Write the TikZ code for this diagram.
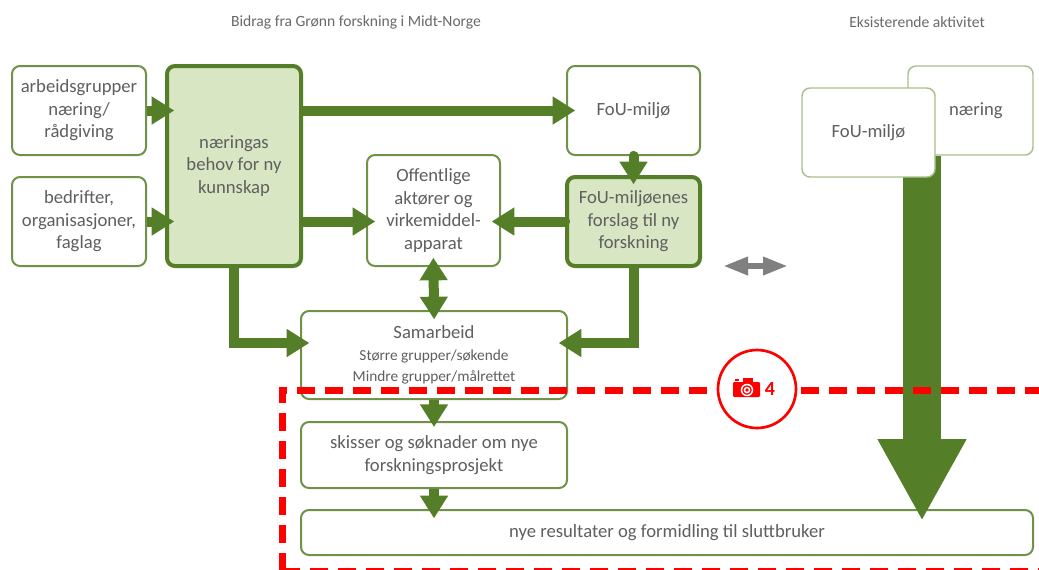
\documentclass[tikz,border=0pt]{standalone}
\usepackage{fontspec}
\setmainfont{Carlito}
\usetikzlibrary{arrows.meta,calc}
\definecolor{grn}{RGB}{84,126,39}
\definecolor{bordergrn}{RGB}{112,146,72}
\definecolor{lightbord}{RGB}{170,192,140}
\definecolor{fillgrn}{RGB}{216,230,196}
\definecolor{txt}{RGB}{95,95,95}
\definecolor{titletxt}{RGB}{105,105,105}
\definecolor{gry}{RGB}{128,128,128}
\begin{document}
\begin{tikzpicture}[x=0.75pt,y=-0.75pt,
  box/.style={draw=bordergrn, line width=1.5pt, rounded corners=6pt, fill=white,
    align=center, text=txt, font=\fontsize{14}{16.9}\selectfont, inner sep=0pt},
  thickbox/.style={box, draw=grn, line width=3pt, fill=fillgrn},
  lightbox/.style={box, draw=lightbord, line width=1.1pt},
  flow/.style={draw=grn, line width=7.5pt, -{Triangle[width=20pt,length=17pt]}, shorten >=-7pt},
  dflow/.style={draw=grn, line width=7.5pt, {Triangle[width=20pt,length=17pt]}-{Triangle[width=20pt,length=17pt]}, shorten >=-7pt, shorten <=-7pt},
  bigflow/.style={draw=grn, line width=28.5pt, -{Triangle[width=62.25pt,length=61.5pt]}, shorten >=-9pt},
  grayflow/.style={draw=gry, line width=5pt, {Triangle[width=12.75pt,length=18.75pt]}-{Triangle[width=12.75pt,length=18.75pt]}},
  reddash/.style={draw=red, line width=5.25pt, dash pattern=on 13.5pt off 7.5pt},
  titlestyle/.style={text=titletxt, font=\fontsize{11.7}{14}\selectfont, inner sep=0pt}
]
\useasboundingbox (0,0) rectangle (1039,569);
\clip (0,0) rectangle (1039,569);
\fill[white] (0,0) rectangle (1039,569);

% titles
\node[titlestyle] (t1) at (356,22) {Bidrag fra Grønn forskning i Midt-Norge};
\node[titlestyle] (t2) at (917,22) {Eksisterende aktivitet};

% left / middle boxes
\node[box, minimum width=100.5pt, minimum height=66.75pt] (arb) at (79,110.5) {arbeidsgrupper\\næring/\\rådgiving};
\node[box, minimum width=100.5pt, minimum height=66.75pt] (bed) at (79,221.5) {bedrifter,\\organisasjoner,\\faglag};
\node[thickbox, minimum width=100.5pt, minimum height=150pt] (naer) at (234,166) {næringas\\behov for ny\\kunnskap};
\node[box, minimum width=99.75pt, minimum height=83.25pt] (off) at (433.5,210.5) {Offentlige\\aktører og\\virkemiddel-\\apparat};
\node[box, minimum width=99.75pt, minimum height=66.75pt] (fou) at (633.5,110.5) {FoU-miljø};
\node[thickbox, minimum width=99.75pt, minimum height=66.75pt] (foun) at (633.5,221.5) {FoU-miljøenes\\forslag til ny\\forskning};
\node[box, minimum width=199.5pt, minimum height=66pt, font=\fontsize{11.5}{16.2}\selectfont] (sam) at (434,355)
  {{\fontsize{14}{16.2}\selectfont Samarbeid}\\Større grupper/søkende\\Mindre grupper/målrettet};
\node[box, minimum width=199.5pt, minimum height=49.5pt] (skis) at (434,455) {skisser og søknader om nye\\forskningsprosjekt};
\node[box, minimum width=549pt, minimum height=33.75pt] (res) at (667,532.5) {nye resultater og formidling til sluttbruker};

% right side
\node[lightbox, minimum width=93.75pt, minimum height=66.75pt, text width=93.75pt] (rnaer) at (970.5,110.5) {\hspace*{8pt}næring};
\coordinate (bt) at ($(rnaer.south)+(-48.5,0)$);
\draw[bigflow] (bt) -- (bt |- res.north);
\node[lightbox, minimum width=99.75pt, minimum height=66.75pt] (rfou) at (868.5,132.5) {FoU-miljø};

% arrows
\draw[flow] (arb.east) -- (arb.east -| naer.west);
\draw[flow] (bed.east) -- (bed.east -| naer.west);
\draw[flow] (naer.east |- fou.west) -- (fou.west);
\draw[flow] (bed.east -| naer.east) -- (bed.east -| off.west);
\draw[flow, line cap=round] (foun.west) -- (foun.west -| off.east);
\draw[flow, line cap=round] (fou.south) -- (foun.north);
\draw[dflow] (off.south) -- (sam.north);
\draw[flow] (naer.south) |- ($(sam.west)+(0,-12)$);
\draw[flow] (foun.south) |- ($(sam.east)+(0,-12)$);
\draw[flow, shorten >=-4.5pt] (sam.south) -- (skis.north);
\draw[flow] (skis.south) -- (skis.south |- res.north);

% gray double arrow
\coordinate (gl) at (723,266);
\coordinate (gr) at (788,266);
\draw[grayflow] (gl) -- (gr);

% red dashed frame
\draw[reddash] (282,571) -- (282,390) -- (1050,390);
\draw[reddash] (282,571) -- (1050,571);

% camera marker
\node[circle, draw=red, line width=2pt, fill=white, minimum size=58.5pt, inner sep=0pt] (cam) at (757,389) {};
\fill[red, rounded corners=0.8pt] ($(cam)+(-24,-7)$) rectangle ($(cam)+(3,8)$);
\fill[red] ($(cam)+(-14,-11)$) rectangle ($(cam)+(-4,-6)$);
\fill[red] ($(cam)+(-22,-10)$) rectangle ($(cam)+(-18,-8.5)$);
\fill[white] ($(cam)+(-10,1)$) circle[radius=4.7pt];
\fill[red] ($(cam)+(-10,1)$) circle[radius=3.6pt];
\fill[white] ($(cam)+(-10,1)$) circle[radius=2.5pt];
\fill[red] ($(cam)+(-10,1)$) circle[radius=1.4pt];
\node[text=red, font=\bfseries\fontsize{15}{18}\selectfont, inner sep=0pt] (four) at ($(cam)+(13,0)$) {4};
\end{tikzpicture}
\end{document}
